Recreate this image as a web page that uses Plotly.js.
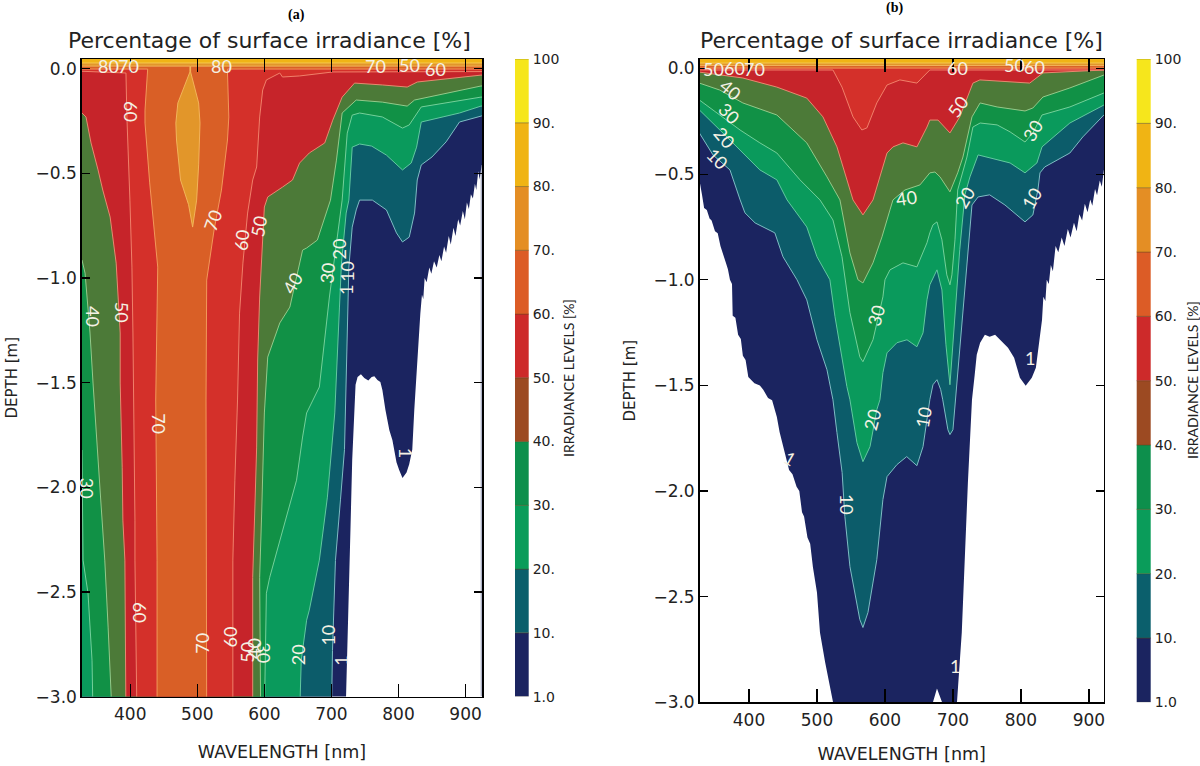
<!DOCTYPE html>
<html><head><meta charset="utf-8">
<script src="https://cdn.plot.ly/plotly-3.0.1.min.js"></script>
<style>html,body{margin:0;padding:0;background:#fff}#c{width:1200px;height:766px}</style>
</head><body><div id="c"></div>
<script>
// ---------- level names ----------
const levels = [1,10,20,30,40,50,60,70,80,90];
const barLabels = ["1.0","10.","20.","30.","40.","50.","60.","70.","80.","90.","100"];
const barColors = ["#1b2460","#0b5f6c","#0a9c5a","#0d8f4c","#9c4a22","#cd2a2a","#dc5c26","#e48e24","#f0b414","#f6e61c"];
const fillColors = {1:"#1b2460",10:"#0c5c6a",20:"#0a9a5c",30:"#119146",40:"#4c7a38",50:"#c6242a",60:"#d4302a",70:"#d95f26",80:"#e2962a",90:"#f0b416"};
const lineColors = {1:"rgba(0,0,0,0)",10:"#7fbcc4",20:"#62c9a0",30:"#74d09a",40:"#94c98a",50:"#e68a70",60:"#f0806a",70:"#f2985a",80:"#f2b45a",90:"#f5c850"};

// ---------- panel (a): wavelength [nm] and depth [m] of each level ----------
const a1Lam=[924,921,919,916,914,911,908,905,902,899,896,892,889,885,882,878,875,871,868,864,861,857,853,849,846,842,839,837,835,832.6,829.6,826.6,823.6,820.6,816,812,806,801,797,791,786.4,780.5,776,773,768.6,764,760,755,749,744,739,736,734.5,731,728.4,725.4,722.4,721];
const a1Dep=[-0.46,-0.53,-0.49,-0.58,-0.55,-0.62,-0.6,-0.67,-0.64,-0.72,-0.68,-0.75,-0.72,-0.8,-0.76,-0.84,-0.8,-0.88,-0.85,-0.92,-0.89,-0.95,-0.92,-0.98,-0.95,-1.02,-1.0,-1.1,-1.08,-1.17,-1.32,-1.425,-1.63,-1.82,-1.89,-1.93,-1.956,-1.918,-1.88,-1.775,-1.727,-1.63,-1.535,-1.497,-1.487,-1.47,-1.473,-1.49,-1.478,-1.46,-1.473,-1.51,-1.63,-1.87,-2.2,-2.54,-2.826,-3.1];
const a1EdgeLam=[923.6,923.6];
const a1EdgeDep=[-0.46,-3.0];
const a10Lam=[924,891,871,850,834,828,824,816,806,797,782,761,742,737,731,726,725,722,719.5,713.5,706,701.6,700];
const a10Dep=[-0.226,-0.255,-0.35,-0.422,-0.46,-0.532,-0.69,-0.805,-0.828,-0.785,-0.675,-0.628,-0.628,-0.675,-0.757,-0.948,-1.09,-1.488,-1.82,-2.06,-2.35,-2.78,-3.1];
const a20Lam=[923,891,834,827,819,806,782,760,742,731,726,722,715,712,705,694,682,667,663,655,652.5];
const a20Dep=[-0.179,-0.212,-0.255,-0.375,-0.451,-0.484,-0.413,-0.37,-0.36,-0.375,-0.628,-0.69,-0.929,-1.139,-1.645,-2.047,-2.348,-2.587,-2.635,-2.826,-3.1];
const a30Lam=[923,834,816,806,776,742,731,723.6,716,697,682,663,657,648,627,608,603,600,344.5,343,337,329.6,328];
const a30Dep=[-0.136,-0.183,-0.269,-0.284,-0.231,-0.212,-0.222,-0.308,-0.628,-1.091,-1.521,-1.645,-1.76,-1.966,-2.204,-2.43,-2.506,-3.1,-3.1,-2.826,-2.506,-2.348,-1.822];
const a40Lam=[923,824,813,776,737,716,707.5,698.6,679,663,657,638,623,605,600,596,593,594.5,373,367,362,356,349,344.5,340,332.6,328];
const a40Dep=[-0.083,-0.15,-0.179,-0.16,-0.15,-0.212,-0.437,-0.628,-0.819,-0.857,-0.867,-1.139,-1.215,-1.378,-1.645,-2.123,-2.43,-3.1,-3.1,-2.668,-2.348,-2.061,-1.741,-1.502,-1.263,-0.977,-0.914];
const a50Lam=[923,828,813,776,746,734.5,716,702,690,667,652.5,642,627,605,600,597.5,593,590,588.5,585.6,582.6,582.6,393.6,392,389,388,385,385,382,379,370,359,352,341.5,334,328];
const a50Dep=[-0.031,-0.064,-0.088,-0.078,-0.069,-0.069,-0.136,-0.246,-0.355,-0.403,-0.451,-0.532,-0.566,-0.613,-0.661,-0.819,-1.091,-1.392,-1.808,-2.123,-2.43,-3.1,-3.1,-2.348,-2.157,-1.904,-1.502,-1.263,-1.106,-0.929,-0.709,-0.58,-0.484,-0.355,-0.231,-0.212];
const a60Lam=[923,702,652.5,627,623,603,597.5,593,588.5,582.6,575,568,563,560,556,553,553,410,407,407,404,402.5,399.5,395,395,393.6,328];
const a60Dep=[-0.014,-0.016,-0.035,-0.04,-0.021,-0.054,-0.102,-0.231,-0.47,-0.532,-0.69,-0.929,-1.168,-1.583,-1.966,-2.348,-3.1,-3.1,-2.348,-2.157,-1.263,-0.948,-0.628,-0.308,-0.231,-0.021,-0.011];
const a70Lam=[923,545,545,547,545,536,525,514,513,513,514,440,440,438,441,429,422,422,426,426,328];
const a70Dep=[-0.002,-0.002,-0.016,-0.231,-0.341,-0.58,-0.771,-1.01,-1.583,-2.348,-3.1,-3.1,-2.348,-1.583,-0.948,-0.546,-0.26,-0.198,-0.016,-0.002,-0.002];
const a80Lam=[923,490,490,502,504,502,499,493,487,475,469,468,471,489,489,328];
const a80Dep=[0.012,0.012,-0.016,-0.164,-0.26,-0.46,-0.628,-0.757,-0.65,-0.532,-0.341,-0.26,-0.164,-0.016,0.012,0.012];
const a90Lam=[925,327];
const a90Dep=[0.027,0.027];

// ---------- panel (b) ----------
const b1Lam=[922,919,916,912,909,905,902,898,894,890,886,882,878,873,869,864,860,855,851,847,844,841,838,836,833,831,826.5,822,816,807,798.5,790,781,772,762,754,747,740,735,732,728,722,717.6,713,706,706,684,684,676.5,670.6,670.6,523.5,523.5,519,512,504.4,500,494,490,486,481,478,474,470,464,459,453,448,445,441,437,434,428,421,416,408,399,395,391,388,384,380,376,375,372,369,366,362,358,354,350,345,342,338,334,331,327];
const b1Dep=[-0.48,-0.56,-0.53,-0.6,-0.57,-0.65,-0.62,-0.68,-0.64,-0.72,-0.69,-0.77,-0.73,-0.8,-0.76,-0.84,-0.8,-0.87,-0.84,-0.96,-0.93,-1.02,-1.0,-1.1,-1.08,-1.19,-1.308,-1.417,-1.464,-1.502,-1.464,-1.369,-1.322,-1.294,-1.26,-1.27,-1.26,-1.298,-1.355,-1.45,-1.568,-1.96,-2.277,-2.67,-2.997,-3.1,-3.1,-3.0,-2.935,-3.0,-3.1,-3.1,-2.997,-2.925,-2.81,-2.67,-2.48,-2.36,-2.25,-2.22,-2.12,-2.1,-2.0,-1.98,-1.92,-1.9,-1.82,-1.76,-1.72,-1.65,-1.6,-1.57,-1.56,-1.52,-1.5,-1.49,-1.46,-1.38,-1.36,-1.28,-1.26,-1.18,-1.17,-1.02,-1.0,-0.95,-0.92,-0.88,-0.84,-0.78,-0.77,-0.72,-0.71,-0.67,-0.66,-0.6,-0.527];
const b10Lam=[922,891,872,835,828,825,817.6,806,776.5,754,737,728,717.6,710,704,700,695.6,692.6,685,682,676.5,670.6,666,656,647,632,617.6,603,597,588,575,567.6,563,548.5,541,537,529.4,523.5,514.7,500,485,470.6,450,438,409,394,387,372,347,327];
const b10Dep=[-0.22,-0.324,-0.4,-0.466,-0.494,-0.575,-0.693,-0.726,-0.646,-0.598,-0.608,-0.646,-1.048,-1.33,-1.568,-1.71,-1.733,-1.71,-1.568,-1.52,-1.473,-1.497,-1.568,-1.79,-1.88,-1.837,-1.875,-1.932,-2.04,-2.325,-2.575,-2.646,-2.608,-2.358,-2.12,-1.913,-1.724,-1.568,-1.426,-1.284,-1.095,-1.0,-0.891,-0.778,-0.731,-0.683,-0.622,-0.48,-0.409,-0.305];
const b20Lam=[922,872,831,823.5,806,784,737,725,717.6,710,703,695.6,689.7,683.8,676.5,666,661.8,656,647,632.4,617.6,603,597,592.6,588,578,567.6,558.8,548.5,544,526.5,519,500,485,456,441,416,386.8,364.7,327];
const b20Dep=[-0.173,-0.258,-0.371,-0.447,-0.494,-0.447,-0.409,-0.513,-0.598,-0.858,-1.19,-1.497,-1.308,-1.048,-0.953,-1.024,-1.095,-1.251,-1.317,-1.284,-1.298,-1.346,-1.44,-1.568,-1.615,-1.79,-1.861,-1.771,-1.568,-1.506,-1.175,-1.0,-0.891,-0.75,-0.622,-0.527,-0.48,-0.385,-0.315,-0.196];
const b30Lam=[922,872,831,817.6,806,784,765,740,729.4,720.6,707,703,698.5,695.6,691,683.8,676.5,670.6,666,661.8,647,626.5,607.4,600,597,582.4,567.6,563,548.5,536.8,523.5,504.4,475,441,416,386.8,357,327];
const b30Dep=[-0.116,-0.182,-0.22,-0.305,-0.348,-0.3,-0.267,-0.258,-0.277,-0.419,-0.575,-0.811,-0.977,-1.024,-0.977,-0.811,-0.726,-0.74,-0.778,-0.825,-0.939,-0.92,-0.953,-1.0,-1.081,-1.284,-1.388,-1.365,-1.156,-0.891,-0.717,-0.622,-0.527,-0.4,-0.352,-0.291,-0.22,-0.149];
const b40Lam=[922,872,832.4,817.6,806,765,740,728,714.7,707,695.6,681,673.5,666,651.5,629.4,611.8,607.4,595.6,582.4,567.6,560.3,548.5,533.8,514.7,485,441,391,357,327];
const b40Dep=[-0.031,-0.092,-0.135,-0.187,-0.201,-0.182,-0.163,-0.229,-0.419,-0.494,-0.584,-0.513,-0.49,-0.494,-0.551,-0.575,-0.622,-0.669,-0.797,-0.92,-1.015,-1.0,-0.873,-0.622,-0.513,-0.352,-0.22,-0.163,-0.102,-0.069];
const b50Lam=[922,832.4,813,739.7,729.4,710,695.6,678,666,661.8,647,626.5,611.8,603,582.4,567.6,553,529.4,508.8,485,441,391,327];
const b50Dep=[-0.007,-0.021,-0.069,-0.054,-0.069,-0.229,-0.305,-0.244,-0.244,-0.277,-0.371,-0.352,-0.371,-0.4,-0.622,-0.693,-0.622,-0.371,-0.229,-0.14,-0.088,-0.045,-0.017];
const b60Lam=[922,666,647,622,603,588,573.5,566,553,536.8,523.5,327];
const b60Dep=[-0.007,-0.007,-0.069,-0.054,-0.078,-0.163,-0.281,-0.291,-0.229,-0.088,-0.007,-0.007];
const b70Lam=[922,327]; const b70Dep=[0.002,0.002];
const b80Lam=[922,327]; const b80Dep=[0.014,0.014];
const b90Lam=[922,327]; const b90Dep=[0.026,0.026];

// ---------- contour labels: text, wavelength, depth, angle ----------
const labelsA=[["80",367,0.012,0],["70",397,0.012,0],["80",536.5,0.012,0],["70",765.6,0.012,0],["50",816,0.018,0],["60",855,0.0,0],
["60",401,-0.207,90],["50",388,-1.163,90],["40",344.5,-1.182,90],["30",335.6,-2.003,90],["70",442.7,-1.698,90],["60",414.4,-2.6,90],
["70",506.7,-2.744,-90],["60",548,-2.715,-90],["50",573.6,-2.787,-90],["40",585.6,-2.769,-90],["30",599,-2.792,90],["20",649.5,-2.8,-90],["10",695.7,-2.706,-90],["1",715,-2.826,-90],
["70",523,-0.723,-70],["60",566,-0.819,-85],["50",591.5,-0.752,-80],["40",642,-1.024,-60],["30",694,-0.977,-85],["20",711,-0.86,-90],["10",722,-0.97,-90],["1",721,-1.06,-90],["1",811.7,-1.837,90]];
const labelsB=[["50",348,0.0,0],["60",378,0.004,0],["70",408,0.0,0],["40",373.5,-0.102,40],["30",370.6,-0.21,45],["20",364.7,-0.329,50],["10",354.4,-0.428,45],
["60",706,0.002,0],["50",707.4,-0.177,-55],["50",791,0.018,0],["60",820.6,0.008,0],["30",817.6,-0.291,-60],["40",631,-0.613,-8],["20",717.6,-0.608,-60],["10",816,-0.613,-60],
["30",586.8,-1.166,-75],["20",581,-1.663,-75],["10",544,-2.065,90],["10",656,-1.653,-80],["1",460,-1.842,30],["1",703,-2.83,0],["1",813,-1.369,0]];

const panelA={1:[a1Lam,a1Dep],10:[a10Lam,a10Dep],20:[a20Lam,a20Dep],30:[a30Lam,a30Dep],40:[a40Lam,a40Dep],50:[a50Lam,a50Dep],60:[a60Lam,a60Dep],70:[a70Lam,a70Dep],80:[a80Lam,a80Dep],90:[a90Lam,a90Dep]};
const panelB={1:[b1Lam,b1Dep],10:[b10Lam,b10Dep],20:[b20Lam,b20Dep],30:[b30Lam,b30Dep],40:[b40Lam,b40Dep],50:[b50Lam,b50Dep],60:[b60Lam,b60Dep],70:[b70Lam,b70Dep],80:[b80Lam,b80Dep],90:[b90Lam,b90Dep]};

const FONT="Lato, 'Open Sans', sans-serif";
const DJ="'DejaVu Sans', sans-serif";
const W=1200,H=766;
const traces=[];
function addPanel(panel,xa,ya){
  levels.forEach(l=>{
    const [lam,dep]=panel[l];
    const x=[935].concat(lam,[315,315,935]);
    const y=[dep[0]].concat(dep,[dep[dep.length-1],0.2,0.2]);
    traces.push({type:"scatter",mode:"lines",x:x,y:y,xaxis:xa,yaxis:ya,fill:"toself",fillcolor:fillColors[l],
      line:{color:lineColors[l],width:l===1?0:1},hoverinfo:"skip",showlegend:false,name:l+" %"});
  });
}
addPanel(panelA,"x","y");
traces.push({type:"scatter",mode:"lines",x:a1EdgeLam,y:a1EdgeDep,xaxis:"x",yaxis:"y",line:{color:"rgba(27,36,96,0.35)",width:1.5},hoverinfo:"skip",showlegend:false});
addPanel(panelB,"x2","y2");
function addBar(xa,ya){
  barColors.forEach((c,i)=>{
    traces.push({type:"bar",x:[0],y:[1],base:[i],width:[1],xaxis:xa,yaxis:ya,marker:{color:c,line:{color:"rgba(90,70,30,0.55)",width:0.7}},hoverinfo:"skip",showlegend:false});
  });
}
addBar("x3","y3");
addBar("x4","y4");

function main(dom,vd,range,yr,xStandoff){
  return {x:{domain:dom,range:range,showgrid:false,zeroline:false,ticks:"inside",ticklen:13,tickwidth:1.2,tickcolor:"#000",mirror:"ticks",showline:true,linecolor:"#000",linewidth:1.4,
      tickvals:[400,500,600,700,800,900],tickfont:{family:DJ,size:17,color:"#222"},ticklabelstandoff:2,title:{text:"WAVELENGTH [nm]",standoff:xStandoff,font:{family:DJ,size:17.5,color:"#222"}},layer:"above traces"},
    y:{domain:vd,range:yr,showgrid:false,zeroline:false,ticks:"inside",ticklen:8,tickwidth:1.2,tickcolor:"#000",mirror:"ticks",showline:true,linecolor:"#000",linewidth:1.4,
      tickvals:[0,-0.5,-1,-1.5,-2,-2.5,-3],tickformat:".1f",tickfont:{family:DJ,size:17,color:"#222"},title:{text:"DEPTH [m]",standoff:14,font:{family:DJ,size:15,color:"#222"}},layer:"above traces"}};
}
function barAxes(dom,vd){
  return {x:{domain:dom,range:[-0.4,0.4],visible:false,fixedrange:true},
    y:{domain:vd,range:[0,10],side:"right",tickvals:[0,1,2,3,4,5,6,7,8,9,10],ticktext:barLabels,ticks:"",showgrid:false,zeroline:false,showline:false,tickfont:{family:DJ,size:14,color:"#222"},ticklabelstandoff:3}};
}
const A=main([81.7/W,482.3/W],[1-696.6/H,1-59/H],[327.6,925],[-3,0.046],22);
const B=main([699.5/W,1104/W],[1-702.3/H,1-59/H],[327.2,922.2],[-3,0.045],18);
const CA=barAxes([515/W,528.7/W],[1-696.6/H,1-59/H]);
const CB=barAxes([1136.7/W,1150.7/W],[1-702.3/H,1-59/H]);

const anns=[];
function lab(list,xr,yr){
  list.forEach(t=>anns.push({text:t[0],x:t[1],y:t[2],xref:xr,yref:yr,showarrow:false,textangle:t[3],font:{family:FONT,size:18,color:"#f4f1e4"}}));
}
lab(labelsA,"x","y"); lab(labelsB,"x2","y2");
function paper(text,px,py,font,angle){anns.push({text:text,xref:"paper",yref:"paper",x:px/W,y:1-py/H,showarrow:false,textangle:angle||0,xanchor:"center",yanchor:"middle",font:font});}
const titleFont={family:DJ,size:22,color:"#222"};
paper("Percentage of surface irradiance [%]",269,41,titleFont);
paper("Percentage of surface irradiance [%]",901,41,titleFont);
const bold={family:"'Liberation Serif',serif",size:14,color:"#000"};
paper("<b>(a)</b>",296,15,bold);
paper("<b>(b)</b>",894,8,bold);
const cbFont={family:FONT,size:14,color:"#222"};
paper("IRRADIANCE LEVELS [%]",568,378,cbFont,-90);
paper("IRRADIANCE LEVELS [%]",1192,380,cbFont,-90);

const layout={width:W,height:H,margin:{l:0,r:0,t:0,b:0},paper_bgcolor:"#fff",plot_bgcolor:"#fff",showlegend:false,barmode:"overlay",
  xaxis:A.x,yaxis:A.y,xaxis2:B.x,yaxis2:B.y,xaxis3:CA.x,yaxis3:CA.y,xaxis4:CB.x,yaxis4:CB.y,annotations:anns};
layout.xaxis.anchor="y";layout.yaxis.anchor="x";layout.xaxis2.anchor="y2";layout.yaxis2.anchor="x2";
layout.xaxis3.anchor="y3";layout.yaxis3.anchor="x3";layout.xaxis4.anchor="y4";layout.yaxis4.anchor="x4";
Plotly.newPlot("c",traces,layout,{displayModeBar:false,staticPlot:true});
</script></body></html>
